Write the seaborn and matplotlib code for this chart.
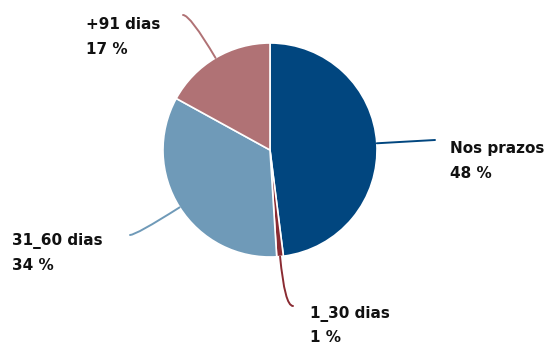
import matplotlib
matplotlib.use("Agg")
import matplotlib.pyplot as plt
import numpy as np
import seaborn as sns

# Share of receivables by ageing bucket
categories = ["Nos prazos", "1_30 dias", "31_60 dias", "+91 dias"]
shares = [48, 1, 34, 17]
colors = ["#01467F", "#8A2B32", "#6F9AB8", "#B07275"]

# label anchor (left x, first-line baseline y) and leader end point, in figure pixels
label_pos = [(450, 153), (310, 318), (12, 245), (86, 29)]
leader_end = [(435, 140), (293, 306), (130, 235), (183, 15)]

W, H = 555, 343
sns.set_theme(style="white")
plt.rcParams["font.family"] = ["DejaVu Sans"]

fig = plt.figure(figsize=(W / 100, H / 100), dpi=100)
ax = fig.add_axes([0, 0, 1, 1])

cx, cy, r = 270, H - 150, 107
wedges, _ = ax.pie(
    shares,
    colors=colors,
    startangle=90,
    counterclock=False,
    center=(cx, cy),
    radius=r,
    wedgeprops=dict(edgecolor="white", linewidth=1.2),
    frame=True,
)
ax.set_xlim(0, W)
ax.set_ylim(0, H)
ax.set_aspect("equal")
ax.axis("off")

for w, name, val, col, (tx, ty), (ex, ey) in zip(
    wedges, categories, shares, colors, label_pos, leader_end
):
    mid_deg = (w.theta1 + w.theta2) / 2
    mid = np.deg2rad(mid_deg)
    sx, sy = cx + r * np.cos(mid), cy + r * np.sin(mid)
    # near-horizontal spokes get a straight leader, others bend into a horizontal end
    if abs(np.sin(mid)) < 0.2:
        conn = "arc3,rad=0"
    else:
        conn = f"angle3,angleA={mid_deg:.1f},angleB=0"
    ax.annotate(
        "",
        xy=(ex, H - ey),
        xytext=(sx, sy),
        arrowprops=dict(arrowstyle="-", color=col, lw=1.4,
                        shrinkA=0, shrinkB=0, connectionstyle=conn),
    )
    ax.text(tx, H - ty, name, fontsize=11, fontweight="bold", color="#111111",
            ha="left", va="baseline")
    ax.text(tx, H - ty - 24.5, f"{val} %", fontsize=11, fontweight="bold",
            color="#111111", ha="left", va="baseline")

fig.savefig("out.png", dpi=100, facecolor="white")
